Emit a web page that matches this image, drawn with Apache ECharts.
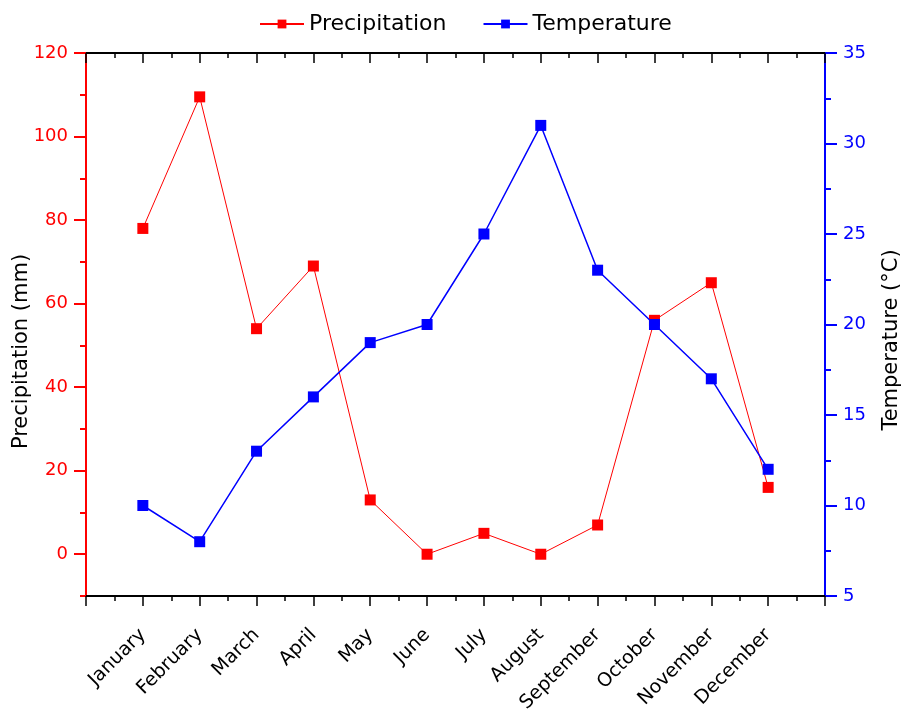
<!DOCTYPE html>
<html>
<head>
<meta charset="utf-8">
<script src="https://cdn.jsdelivr.net/npm/echarts@6/dist/echarts.min.js"></script>
<style>
  html, body { margin: 0; padding: 0; background: #fff; }
  #chart { width: 901px; height: 716px; }
</style>
</head>
<body>
<div id="chart"></div>
<script>
// data
var months = ["January", "February", "March", "April", "May", "June",
              "July", "August", "September", "October", "November", "December"];
var precipitation = [78, 109.5, 54, 69, 13, 0, 5, 0, 7, 56, 65, 16];
var temperature   = [10, 8, 13, 16, 19, 20, 25, 31, 23, 20, 17, 12];
// left axis tick values
var precipMajor = [0, 20, 40, 60, 80, 100, 120];
var precipMinor = [-10, 10, 30, 50, 70, 90, 110];

var FONT = "DejaVu Sans";

// x is a value axis 0..13 so January sits one step in from the edge
var precipPoints = [];
var tempPoints = [];
months.forEach(function (m, i) {
    precipPoints.push([i + 1, precipitation[i]]);
    tempPoints.push([i + 1, temperature[i]]);
});

var myChart = echarts.init(document.getElementById("chart"));

var xBase = {
    type: "value",
    min: 0,
    max: 13,
    interval: 1,
    splitLine: { show: false },
    axisLine: { onZero: false, lineStyle: { color: "#000", width: 2 } },
    minorTick: { show: true, splitNumber: 2, length: 5, lineStyle: { color: "#000", width: 1.5 } }
};

myChart.setOption({
    animation: false,
    textStyle: { fontFamily: FONT },
    legend: {
        top: 8,
        left: 254,
        itemWidth: 44,
        itemHeight: 11,
        itemGap: 36,
        textStyle: { fontSize: 22, color: "#000", fontFamily: FONT },
        data: ["Precipitation", "Temperature"]
    },
    grid: { left: 86, right: 76, top: 53, bottom: 120, containLabel: false, outerBoundsMode: "none" },
    xAxis: [
        Object.assign({}, xBase, {
            position: "bottom",
            axisTick: { length: 10, lineStyle: { color: "#000", width: 1.5 } },
            axisLabel: {
                rotate: 45,
                margin: 36,
                fontSize: 19,
                color: "#000",
                fontFamily: FONT,
                formatter: function (v) {
                    return (v >= 1 && v <= 12) ? months[v - 1] : "";
                }
            }
        }),
        Object.assign({}, xBase, {
            position: "top",
            axisTick: { inside: true, length: 10, lineStyle: { color: "#000", width: 1.5 } },
            axisLabel: { show: false }
        })
    ],
    yAxis: [
        {
            type: "value",
            position: "left",
            min: -10,
            max: 120,
            name: "Precipitation (mm)",
            nameLocation: "middle",
            nameGap: 54,
            nameMoveOverlap: false,
            nameTextStyle: { fontSize: 21, color: "#000", fontFamily: FONT, padding: [0, 54, 0, 0] },
            splitLine: { show: false },
            axisLine: { show: true, onZero: false, lineStyle: { color: "#ff0000", width: 2 } },
            axisTick: { show: true, length: 12, customValues: precipMajor, lineStyle: { color: "#ff0000", width: 2 } },
            axisLabel: { margin: 18, fontSize: 18, color: "#ff0000", fontFamily: FONT, customValues: precipMajor }
        },
        {
            type: "value",
            position: "right",
            min: 5,
            max: 35,
            interval: 5,
            name: "Temperature (°C)",
            nameLocation: "middle",
            nameGap: 56,
            nameTextStyle: { fontSize: 21, color: "#000", fontFamily: FONT, padding: [0, 31, 0, 0] },
            splitLine: { show: false },
            axisLine: { show: true, onZero: false, lineStyle: { color: "#0000ff", width: 2 } },
            axisTick: { show: true, length: 12, lineStyle: { color: "#0000ff", width: 2 } },
            minorTick: { show: true, splitNumber: 2, length: 6, lineStyle: { color: "#0000ff", width: 2 } },
            axisLabel: { margin: 18, fontSize: 18, color: "#0000ff", fontFamily: FONT }
        },
        {
            // minor ticks of the left axis
            type: "value",
            position: "left",
            min: -10,
            max: 120,
            splitLine: { show: false },
            axisLine: { show: false, onZero: false },
            axisTick: { show: true, length: 6, customValues: precipMinor, lineStyle: { color: "#ff0000", width: 2 } },
            axisLabel: { show: false }
        }
    ],
    series: [
        {
            name: "Precipitation",
            type: "line",
            xAxisIndex: 0,
            yAxisIndex: 0,
            data: precipPoints,
            symbol: "rect",
            symbolSize: 11,
            lineStyle: { color: "#ff0000", width: 1 },
            itemStyle: { color: "#ff0000" },
            z: 2
        },
        {
            name: "Temperature",
            type: "line",
            xAxisIndex: 0,
            yAxisIndex: 1,
            data: tempPoints,
            symbol: "rect",
            symbolSize: 11,
            lineStyle: { color: "#0000ff", width: 1.5 },
            itemStyle: { color: "#0000ff" },
            z: 3
        }
    ]
});
</script>
</body>
</html>
